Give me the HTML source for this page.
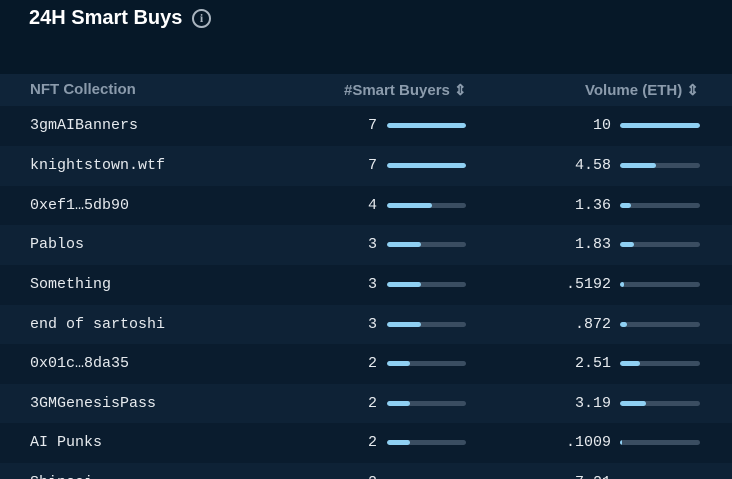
<!DOCTYPE html>
<html><head><style>
html,body{margin:0;width:732px;height:479px;overflow:hidden;background:#061828;font-family:"Liberation Sans",sans-serif;position:relative;}
h1{position:absolute;left:29px;top:7px;margin:0;font-size:20px;font-weight:bold;color:#fff;}
.info{position:absolute;left:192px;top:9px;width:19px;height:19px;border:2px solid #a9b4bf;border-radius:50%;box-sizing:border-box;color:#a9b4bf;font-size:12px;font-weight:bold;text-align:center;line-height:15px;font-family:"Liberation Serif",serif;}
.hdr{position:absolute;left:0;top:74px;width:732px;height:32px;background:#0f2439;color:#8b9bac;font-size:15px;font-weight:bold;}
.hdr span{position:absolute;top:7px;}
.row{position:absolute;left:0;width:732px;height:40px;font-family:"Liberation Mono",monospace;font-size:15px;color:#e6eaee;}
.row .n{position:absolute;left:30px;top:11px;}
.row .v1{position:absolute;right:355px;top:11px;}
.row .v2{position:absolute;right:121px;top:11px;}
.bar{position:absolute;top:17px;height:5px;border-radius:3px;background:#3a4d61;width:79px;overflow:hidden;}
.bar i{display:block;height:5px;border-radius:3px;background:#8fd0f3;}
.b1{left:387px}.b2{left:620px;width:80px}
.odd{background:#0a1c2e}.even{background:#0e2236}
</style></head><body>
<h1>24H Smart Buys</h1><div class="info">i</div>
<div class="hdr"><span style="left:30px">NFT Collection</span><span style="left:344px">#Smart Buyers ⇕</span><span style="left:585px">Volume (ETH) ⇕</span></div>
<div class="row odd" style="top:106px"><span class="n">3gmAIBanners</span><span class="v1">7</span><div class="bar b1"><i style="width:100%"></i></div><span class="v2">10</span><div class="bar b2"><i style="width:100%"></i></div></div>
<div class="row even" style="top:146px"><span class="n">knightstown.wtf</span><span class="v1">7</span><div class="bar b1"><i style="width:100%"></i></div><span class="v2">4.58</span><div class="bar b2"><i style="width:45%"></i></div></div>
<div class="row odd" style="top:186px"><span class="n">0xef1…5db90</span><span class="v1">4</span><div class="bar b1"><i style="width:57%"></i></div><span class="v2">1.36</span><div class="bar b2"><i style="width:14%"></i></div></div>
<div class="row even" style="top:225px"><span class="n">Pablos</span><span class="v1">3</span><div class="bar b1"><i style="width:43%"></i></div><span class="v2">1.83</span><div class="bar b2"><i style="width:18%"></i></div></div>
<div class="row odd" style="top:265px"><span class="n">Something</span><span class="v1">3</span><div class="bar b1"><i style="width:43%"></i></div><span class="v2">.5192</span><div class="bar b2"><i style="width:5%"></i></div></div>
<div class="row even" style="top:305px"><span class="n">end of sartoshi</span><span class="v1">3</span><div class="bar b1"><i style="width:43%"></i></div><span class="v2">.872</span><div class="bar b2"><i style="width:9%"></i></div></div>
<div class="row odd" style="top:344px"><span class="n">0x01c…8da35</span><span class="v1">2</span><div class="bar b1"><i style="width:29%"></i></div><span class="v2">2.51</span><div class="bar b2"><i style="width:25%"></i></div></div>
<div class="row even" style="top:384px"><span class="n">3GMGenesisPass</span><span class="v1">2</span><div class="bar b1"><i style="width:29%"></i></div><span class="v2">3.19</span><div class="bar b2"><i style="width:32%"></i></div></div>
<div class="row odd" style="top:423px"><span class="n">AI Punks</span><span class="v1">2</span><div class="bar b1"><i style="width:29%"></i></div><span class="v2">.1009</span><div class="bar b2"><i style="width:2%"></i></div></div>
<div class="row even" style="top:463px"><span class="n">Shinsei</span><span class="v1">2</span><div class="bar b1"><i style="width:29%"></i></div><span class="v2">7.21</span><div class="bar b2"><i style="width:72%"></i></div></div>
</body></html>
